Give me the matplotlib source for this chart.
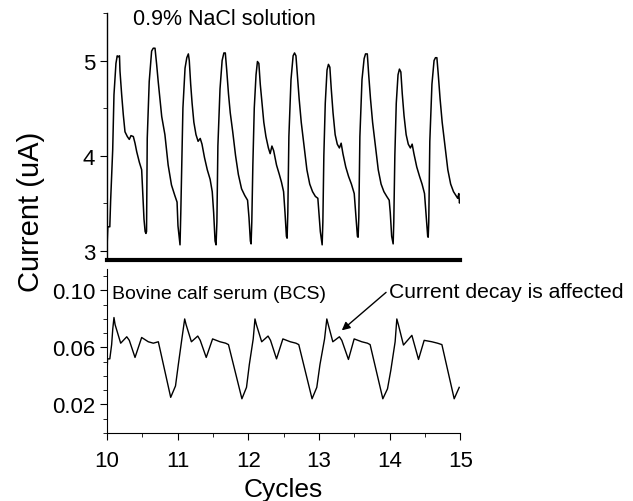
import matplotlib
matplotlib.use("Agg")
import matplotlib.pyplot as plt
from matplotlib.ticker import MultipleLocator, FormatStrFormatter

plt.rcParams['font.family'] = ['Liberation Sans', 'DejaVu Sans']

# 0.9% NaCl trace (cycles, uA)
nacl_x = [10.004, 10.012, 10.040, 10.052, 10.081, 10.099, 10.127, 10.145, 10.160, 10.177,
          10.184, 10.208, 10.231, 10.255, 10.288, 10.316, 10.340, 10.373, 10.397, 10.421,
          10.458, 10.491, 10.506, 10.524, 10.540, 10.552,
          10.560, 10.570, 10.598, 10.632, 10.655, 10.680, 10.703, 10.725, 10.750, 10.775,
          10.820, 10.866, 10.913, 10.960, 10.992, 11.005, 11.034,
          11.045, 11.058, 11.075, 11.105, 11.130, 11.152, 11.165, 11.185, 11.205, 11.230,
          11.260, 11.290, 11.320, 11.345, 11.380, 11.420, 11.460, 11.490, 11.510, 11.530, 11.544,
          11.556, 11.570, 11.600, 11.630, 11.655, 11.675, 11.695, 11.720, 11.745, 11.780,
          11.820, 11.860, 11.905, 11.950, 11.990, 12.010, 12.030, 12.040,
          12.050, 12.065, 12.085, 12.110, 12.130, 12.150, 12.170, 12.195, 12.220, 12.250,
          12.285, 12.310, 12.335, 12.360, 12.400, 12.440, 12.470, 12.500, 12.520, 12.540, 12.550,
          12.560, 12.575, 12.605, 12.635, 12.655, 12.675, 12.695, 12.720, 12.750, 12.790,
          12.830, 12.870, 12.910, 12.950, 12.985, 13.000, 13.020, 13.046,
          13.056, 13.070, 13.090, 13.115, 13.135, 13.155, 13.175, 13.200, 13.230, 13.260,
          13.290, 13.315, 13.340, 13.380, 13.420, 13.460, 13.500, 13.525, 13.545, 13.555,
          13.565, 13.580, 13.610, 13.640, 13.660, 13.685, 13.705, 13.730, 13.760, 13.800,
          13.840, 13.880, 13.920, 13.960, 13.995, 14.010, 14.030, 14.051,
          14.060, 14.075, 14.095, 14.120, 14.140, 14.160, 14.180, 14.205, 14.235, 14.265,
          14.295, 14.320, 14.345, 14.385, 14.425, 14.460, 14.495, 14.520, 14.540, 14.547,
          14.555, 14.570, 14.600, 14.630, 14.650, 14.670, 14.690, 14.715, 14.745, 14.785,
          14.825, 14.865, 14.905, 14.940, 14.965, 14.980, 14.990, 15.000]
nacl_y = [3.10, 3.25, 3.25, 3.53, 4.06, 4.64, 4.97, 5.05, 5.04, 5.05,
          4.89, 4.64, 4.43, 4.25, 4.20, 4.17, 4.21, 4.20, 4.13, 4.04,
          3.93, 3.85, 3.62, 3.33, 3.20, 3.18,
          3.20, 4.18, 4.78, 5.10, 5.13, 5.13, 4.96, 4.78, 4.60, 4.41,
          4.22, 3.90, 3.69, 3.58, 3.51, 3.26, 3.06,
          3.40, 3.90, 4.50, 4.92, 5.03, 5.07, 5.00, 4.75, 4.55, 4.35,
          4.22, 4.15, 4.18, 4.12, 3.98, 3.85, 3.75, 3.62, 3.40, 3.10, 3.06,
          3.30, 4.10, 4.70, 5.00, 5.08, 5.08, 4.90, 4.65, 4.45, 4.25,
          4.00, 3.80, 3.65, 3.58, 3.53, 3.35, 3.10, 3.07,
          3.30, 3.90, 4.50, 4.85, 4.99, 4.97, 4.75, 4.55, 4.35, 4.20,
          4.08, 4.02, 4.10, 4.05, 3.90, 3.80, 3.72, 3.62, 3.40, 3.15, 3.13,
          3.40, 4.20, 4.80, 5.05, 5.08, 5.05, 4.85, 4.60, 4.35, 4.10,
          3.85, 3.70, 3.62, 3.57, 3.55, 3.40, 3.20, 3.06,
          3.30, 4.00, 4.55, 4.90, 4.96, 4.93, 4.70, 4.45, 4.22, 4.12,
          4.08, 4.13, 4.02, 3.88, 3.78, 3.70, 3.60, 3.35, 3.15, 3.14,
          3.35, 4.20, 4.80, 5.02, 5.07, 5.07, 4.85, 4.60, 4.35, 4.10,
          3.85, 3.70, 3.62, 3.57, 3.53, 3.40, 3.15, 3.07,
          3.30, 4.00, 4.55, 4.85, 4.91, 4.88, 4.65, 4.42, 4.22, 4.12,
          4.08, 4.12, 4.02, 3.88, 3.78, 3.70, 3.60, 3.35, 3.15, 3.14,
          3.30, 4.15, 4.75, 5.00, 5.03, 5.03, 4.85, 4.60, 4.35, 4.10,
          3.85, 3.70, 3.62, 3.58, 3.55, 3.60, 3.50, 3.53]

# Bovine calf serum trace (cycles, uA)
bcs_x = [10.000, 10.008, 10.040, 10.066, 10.082, 10.099, 10.115, 10.194, 10.280, 10.316,
         10.397, 10.491, 10.585, 10.656, 10.727, 10.902, 10.970, 11.010, 11.060, 11.100,
         11.120, 11.195, 11.285, 11.320, 11.405, 11.495, 11.600, 11.680, 11.720, 11.910,
         11.975, 12.015, 12.070, 12.095, 12.115, 12.190, 12.280, 12.315, 12.400, 12.490,
         12.595, 12.675, 12.715, 12.903, 12.970, 13.015, 13.080, 13.112, 13.135, 13.197,
         13.290, 13.324, 13.418, 13.499, 13.607, 13.687, 13.725, 13.905, 13.971, 14.018,
         14.079, 14.103, 14.125, 14.197, 14.316, 14.410, 14.490, 14.599, 14.679, 14.741,
         14.915, 14.986]
bcs_y = [0.040, 0.052, 0.052, 0.062, 0.073, 0.081, 0.076, 0.063, 0.0675, 0.065,
         0.053, 0.067, 0.064, 0.063, 0.064, 0.025, 0.033, 0.048, 0.066, 0.080,
         0.076, 0.064, 0.068, 0.065, 0.053, 0.066, 0.064, 0.063, 0.062, 0.024,
         0.032, 0.048, 0.066, 0.080, 0.076, 0.064, 0.068, 0.065, 0.052, 0.066,
         0.064, 0.063, 0.062, 0.024, 0.032, 0.048, 0.066, 0.080, 0.0755, 0.064,
         0.0675, 0.065, 0.0516, 0.066, 0.064, 0.063, 0.062, 0.024, 0.031, 0.044,
         0.064, 0.080, 0.076, 0.0617, 0.0685, 0.0516, 0.065, 0.064, 0.063, 0.062,
         0.024, 0.032]

fig = plt.figure(figsize=(6.33, 5.02), dpi=100)
ax1 = fig.add_axes([0.169, 0.480, 0.558, 0.492])
ax2 = fig.add_axes([0.169, 0.1355, 0.558, 0.3265])

ax1.plot(nacl_x, nacl_y, color='black', lw=1.1)
ax1.set_xlim(10, 15)
ax1.set_ylim(2.9, 5.5)
for s in ['top', 'right']:
    ax1.spines[s].set_visible(False)
ax1.spines['bottom'].set_linewidth(3)
ax1.spines['left'].set_linewidth(1)
ax1.set_xticks([])
ax1.yaxis.set_major_locator(MultipleLocator(1))
ax1.yaxis.set_minor_locator(MultipleLocator(0.5))
ax1.tick_params(axis='y', which='major', length=5, labelsize=16)
ax1.tick_params(axis='y', which='minor', length=3)
ax1.text(10.37, 5.44, '0.9% NaCl solution', fontsize=15.5, va='center', ha='left')

ax2.plot(bcs_x, bcs_y, color='black', lw=1.0)
ax2.set_xlim(10, 15)
ax2.set_ylim(0, 0.115)
for s in ['top', 'right']:
    ax2.spines[s].set_visible(False)
ax2.set_yticks([0.02, 0.06, 0.10])
ax2.yaxis.set_major_formatter(FormatStrFormatter('%.2f'))
ax2.yaxis.set_minor_locator(MultipleLocator(0.01))
ax2.xaxis.set_major_locator(MultipleLocator(1))
ax2.xaxis.set_minor_locator(MultipleLocator(0.5))
ax2.tick_params(axis='both', which='major', length=5, labelsize=16)
ax2.tick_params(axis='x', which='major', pad=7)
ax2.tick_params(axis='both', which='minor', length=3)
ax2.text(10.07, 0.098, 'Bovine calf serum (BCS)', fontsize=14, va='center', ha='left')
ax2.annotate('Current decay is affected', xy=(13.324, 0.072), xytext=(13.99, 0.099),
             fontsize=15.2, va='center', ha='left', annotation_clip=False,
             arrowprops=dict(arrowstyle='-|>', color='black', lw=1, mutation_scale=12,
                             shrinkA=0, shrinkB=0, relpos=(0, 0.6)))

fig.text(283 / 633, 1 - 490 / 502, 'Cycles', fontsize=19, va='center', ha='center')
fig.text(0.049, 0.578, 'Current (uA)', rotation=90, fontsize=21, va='center', ha='center')

fig.savefig('out.png', dpi=100)
